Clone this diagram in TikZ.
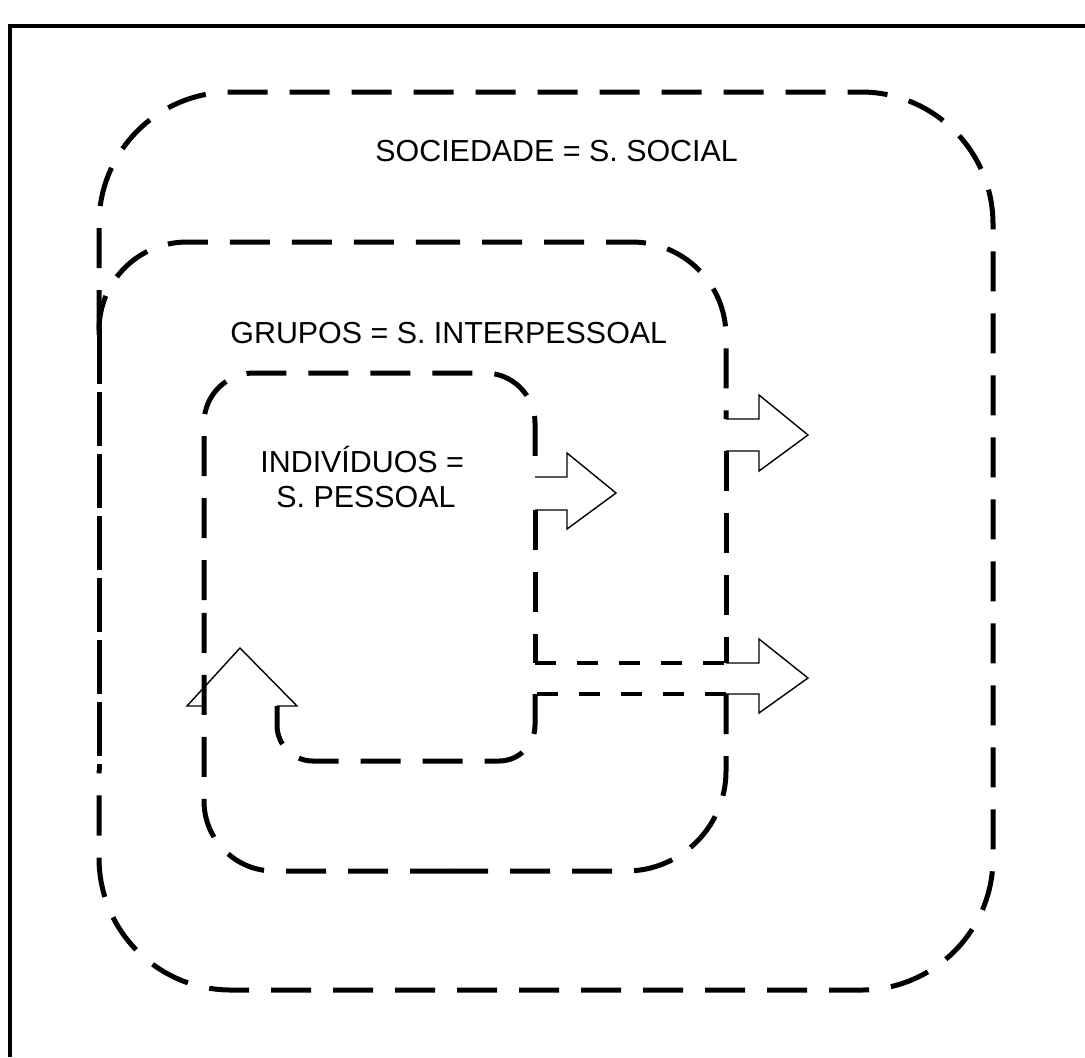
\documentclass[tikz,border=0pt]{standalone}
\usepackage{fontspec}
\setmainfont{Liberation Sans}
\begin{document}
\begin{tikzpicture}[x=0.5pt,y=-0.5pt,
  dsh/.style={line width=2.5pt,dash pattern=on 20pt off 11pt},
  dshlong/.style={line width=2.5pt,dash pattern=on 27pt off 4pt},
  dshshort/.style={line width=2.3pt,dash pattern=on 10.5pt off 10.5pt},
  arr/.style={line width=0.7pt,line join=miter},
  frame/.style={line width=1.6pt},
  lbl/.style={inner sep=0pt,anchor=base west,font=\fontsize{15.2}{18}\selectfont}]
\useasboundingbox (0,0) rectangle (1085,1057);
% page frame
\draw[frame] (10,1057) -- (10,26) -- (1085,26);
% outer box (SOCIEDADE)
\draw[dsh,rounded corners=66pt] (99,330) -- (99,92) -- (993,92) -- (993,990) -- (99,990) -- (99,770);
\draw[dshlong] (99,330) -- (99,770);
% middle box (GRUPOS)
\draw[dsh,rounded corners=44pt] (99,335) -- (99,242) -- (420,242);
\draw[dsh,rounded corners=47pt] (420,242) -- (726,242) -- (726,419);
\draw[dsh] (726,451) -- (726,663);
\draw[dsh,rounded corners=50pt] (726,694) -- (726,871) -- (450,871);
\draw[dsh,rounded corners=35pt] (450,871) -- (204,871) -- (204,600);
% inner box (INDIVIDUOS)
\draw[dsh,rounded corners=25pt] (204,600) -- (204,373) -- (535,373) -- (535,477);
\draw[dsh] (535,510) -- (535,663);
\draw[dshshort] (535,663) -- (726,663);
\draw[dshshort] (726,694) -- (535,694);
\draw[dsh,rounded corners=18pt] (535,694) -- (535,761) -- (277,761) -- (277,706);
% block arrows
\draw[arr] (535,477) -- (567,477) -- (567,453) -- (616,493) -- (567,529) -- (567,510) -- (535,510);
\draw[arr] (726,419) -- (759,419) -- (759,395) -- (808,435) -- (759,471) -- (759,451) -- (726,451);
\draw[arr] (726,663) -- (759,663) -- (759,639) -- (808,678) -- (759,713) -- (759,694) -- (726,694);
\draw[arr] (204,706) -- (187,706) -- (240,648) -- (297,706) -- (277,706);
% labels
\node[lbl] (soc) at (375,161) {SOCIEDADE = S. SOCIAL};
\node[lbl] (gru) at (230,343) {GRUPOS = S. INTERPESSOAL};
\node[lbl] (ind) at (260,472) {INDIVÍDUOS =};
\node[lbl] (pes) at (276,507) {S. PESSOAL};
\end{tikzpicture}
\end{document}
